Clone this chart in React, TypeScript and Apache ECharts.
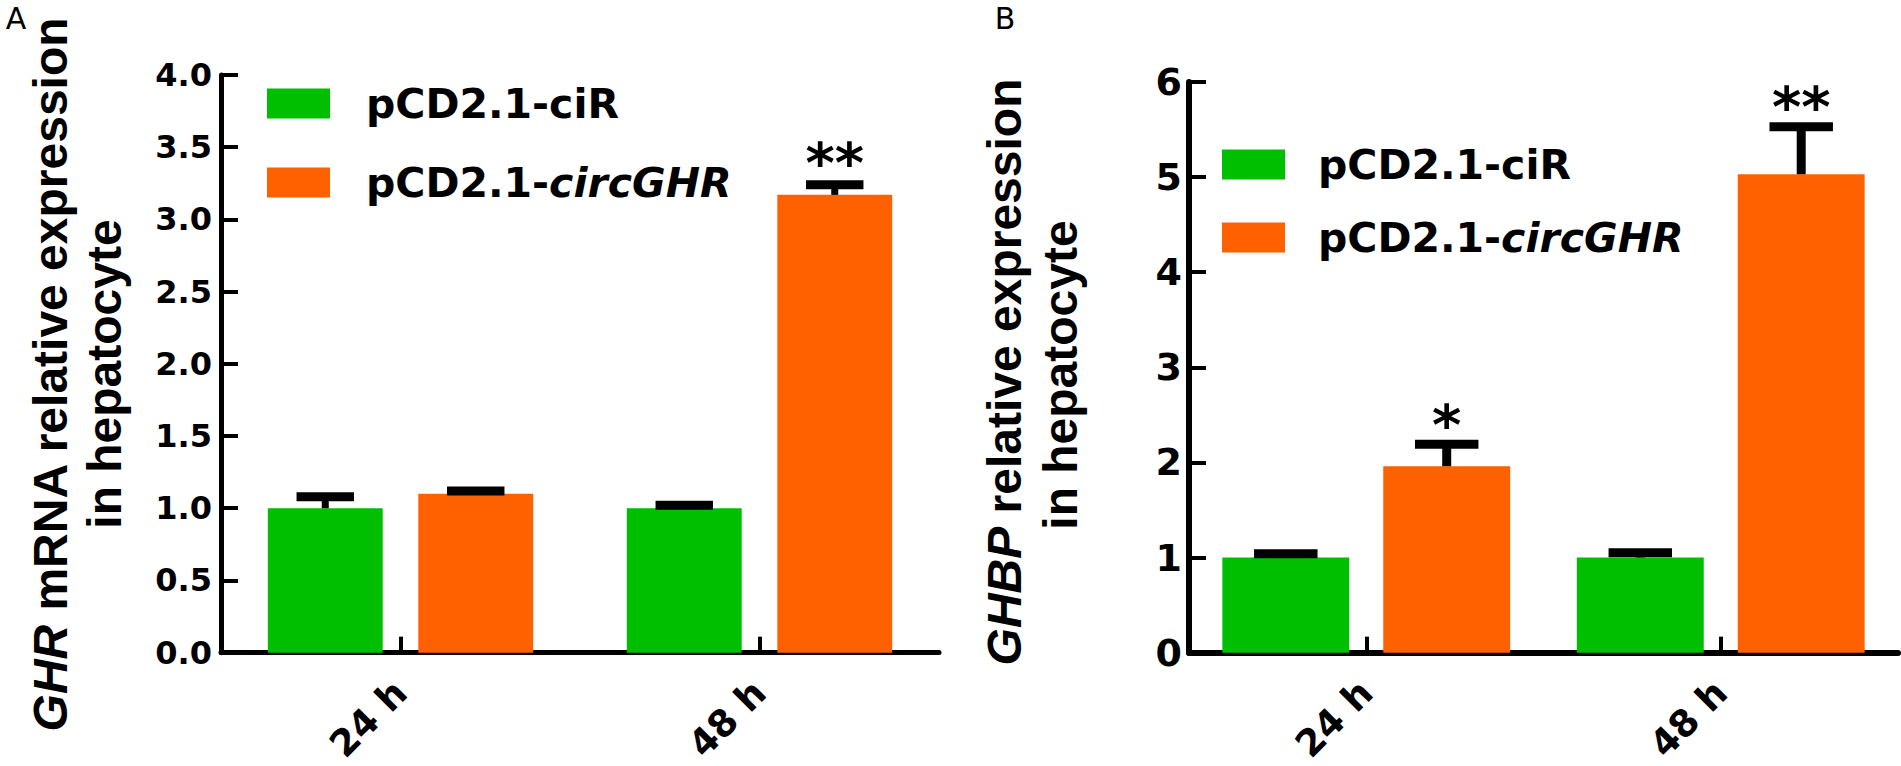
import React, { useEffect, useRef } from "react";
import * as echarts from "echarts";

// ---------- data ----------
const categories = ["24 h", "48 h"];
const seriesNames = ["pCD2.1-ciR", "pCD2.1-circGHR"];

// Panel A: GHR mRNA
const ghrCiR = [1.0, 1.0];
const ghrCiRErr = [0.08, 0.02];
const ghrCirc = [1.1, 3.17];
const ghrCircErr = [0.02, 0.07];
const ghrCircStars = ["", "**"];
const ghrAxis = { min: 0, max: 4, interval: 0.5 };

// Panel B: GHBP
const ghbpCiR = [1.0, 1.0];
const ghbpCiRErr = [0.04, 0.05];
const ghbpCirc = [1.96, 5.03];
const ghbpCircErr = [0.23, 0.5];
const ghbpCircStars = ["*", "**"];
const ghbpAxis = { min: 0, max: 6, interval: 1 };

// ---------- style ----------
const GREEN = "#00bf00";
const ORANGE = "#ff6100";
const FH = "'DejaVu Sans', sans-serif";
const FT = "'Liberation Sans', Arial, sans-serif";

function errSeries(
  gridIdx: number,
  means: number[],
  errs: number[],
  stars: string[],
  sign: number,
  pct: number,
  gap: number,
  stemW: number,
  starFont: number,
  starOff: number
) {
  return {
    type: "custom",
    xAxisIndex: gridIdx,
    yAxisIndex: gridIdx,
    z: 10,
    silent: true,
    data: means.map((m, i) => [i, m, errs[i]]),
    renderItem: (params: any, api: any) => {
      const ci = api.value(0);
      const v = api.value(1);
      const e = api.value(2);
      const base = api.coord([ci, v]);
      const top = api.coord([ci, v + e]);
      const band = api.size([1, 0])[0];
      const bw = band * pct;
      const x = base[0] + (sign * (bw + bw * gap)) / 2;
      const half = bw / 4;
      const children: any[] = [
        {
          type: "line",
          shape: { x1: x, y1: base[1], x2: x, y2: top[1] },
          style: { stroke: "#000", lineWidth: stemW },
        },
        {
          type: "line",
          shape: { x1: x - half, y1: top[1], x2: x + half, y2: top[1] },
          style: { stroke: "#000", lineWidth: 9 },
        },
      ];
      const s = stars[params.dataIndex];
      if (s) {
        children.push({
          type: "text",
          x: x,
          y: top[1] - starOff,
          style: {
            text: s,
            fill: "#000",
            font: `bold ${starFont}px ${FH}`,
            align: "center",
            verticalAlign: "middle",
            textAlign: "center",
            textVerticalAlign: "middle",
          },
        });
      }
      return { type: "group", children };
    },
  };
}

const richLegend = (size: number) => ({
  n: { fontFamily: FH, fontWeight: "bold", fontSize: size, lineHeight: 30, color: "#000" },
  i: {
    fontFamily: FH,
    fontWeight: "bold",
    fontStyle: "italic",
    fontSize: size,
    lineHeight: 30,
    color: "#000",
  },
});

const legendFormatter = (name: string) =>
  name === "pCD2.1-circGHR" ? "{n|pCD2.1-}{i|circGHR}" : "{n|" + name + "}";

function titleText(x: number, y: number, italic: string, rest: string) {
  return {
    type: "text",
    x,
    y,
    rotation: Math.PI / 2,
    style: {
      text: (italic ? "{i|" + italic + "}" : "") + "{n|" + rest + "}",
      align: "center",
      verticalAlign: "middle",
      textAlign: "center",
      textVerticalAlign: "middle",
      rich: {
        n: { fontFamily: FT, fontWeight: "bold", fontSize: 48, fill: "#000", color: "#000" },
        i: {
          fontFamily: FT,
          fontWeight: "bold",
          fontStyle: "italic",
          fontSize: 48,
          fill: "#000",
          color: "#000",
        },
      },
    },
  };
}

function buildOption() {
  const axisLine = (w: number) => ({ show: true, lineStyle: { color: "#000", width: w } });
  const xAxisCommon = (gridIndex: number, w: number) => ({
    type: "category",
    gridIndex,
    data: categories,
    axisLine: axisLine(w),
    axisTick: {
      show: true,
      alignWithLabel: true,
      inside: true,
      length: 16,
      lineStyle: { color: "#000", width: 4 },
    },
    axisLabel: {
      rotate: 45,
      margin: 34,
      color: "#000",
      fontFamily: FH,
      fontWeight: "bold",
      fontSize: 37,
    },
    splitLine: { show: false },
  });
  const yAxisCommon = (
    gridIndex: number,
    ax: { min: number; max: number; interval: number },
    w: number,
    fs: number,
    margin: number,
    dec: number
  ) => ({
    type: "value",
    gridIndex,
    min: ax.min,
    max: ax.max,
    interval: ax.interval,
    axisLine: axisLine(w),
    axisTick: {
      show: true,
      inside: true,
      length: 17,
      lineStyle: { color: "#000", width: 4 },
    },
    axisLabel: {
      margin,
      color: "#000",
      fontFamily: FH,
      fontWeight: "bold",
      fontSize: fs,
      formatter: (v: number) => v.toFixed(dec),
    },
    splitLine: { show: false },
  });

  const A_PCT = 0.32;
  const A_GAP = 0.31;
  const B_PCT = 0.358;
  const B_GAP = 0.268;

  return {
    animation: false,
    backgroundColor: "#fff",
    grid: [
      { left: 221, top: 75, width: 718, height: 592 },
      { left: 1189, top: 82, width: 709, height: 588 },
    ],
    xAxis: [xAxisCommon(0, 5), xAxisCommon(1, 6)],
    yAxis: [
      yAxisCommon(0, ghrAxis, 5, 32, 9, 1),
      yAxisCommon(1, ghbpAxis, 6, 38, 7, 0),
    ],
    legend: [
      {
        orient: "vertical",
        left: 267,
        top: 83,
        padding: 0,
        itemWidth: 63,
        itemHeight: 30,
        itemGap: 38,
        icon: "rect",
        data: seriesNames,
        selectedMode: false,
        formatter: legendFormatter,
        textStyle: { padding: [0, 0, 0, 31], rich: richLegend(41) },
      },
      {
        orient: "vertical",
        left: 1222,
        top: 144,
        padding: 0,
        itemWidth: 63,
        itemHeight: 30,
        itemGap: 32,
        icon: "rect",
        data: seriesNames,
        selectedMode: false,
        formatter: legendFormatter,
        textStyle: { padding: [0, 0, 0, 28], rich: richLegend(41) },
      },
    ],
    series: [
      {
        name: seriesNames[0],
        type: "bar",
        xAxisIndex: 0,
        yAxisIndex: 0,
        data: ghrCiR,
        barWidth: A_PCT * 100 + "%",
        barGap: A_GAP * 100 + "%",
        itemStyle: { color: GREEN },
      },
      {
        name: seriesNames[1],
        type: "bar",
        xAxisIndex: 0,
        yAxisIndex: 0,
        data: ghrCirc,
        barWidth: A_PCT * 100 + "%",
        barGap: A_GAP * 100 + "%",
        itemStyle: { color: ORANGE },
      },
      {
        name: seriesNames[0],
        type: "bar",
        xAxisIndex: 1,
        yAxisIndex: 1,
        data: ghbpCiR,
        barWidth: B_PCT * 100 + "%",
        barGap: B_GAP * 100 + "%",
        itemStyle: { color: GREEN },
      },
      {
        name: seriesNames[1],
        type: "bar",
        xAxisIndex: 1,
        yAxisIndex: 1,
        data: ghbpCirc,
        barWidth: B_PCT * 100 + "%",
        barGap: B_GAP * 100 + "%",
        itemStyle: { color: ORANGE },
      },
      errSeries(0, ghrCiR, ghrCiRErr, ["", ""], -1, A_PCT, A_GAP, 7, 56, 22),
      errSeries(0, ghrCirc, ghrCircErr, ghrCircStars, 1, A_PCT, A_GAP, 7, 56, 22),
      errSeries(1, ghbpCiR, ghbpCiRErr, ["", ""], -1, B_PCT, B_GAP, 9, 56, 20),
      errSeries(1, ghbpCirc, ghbpCircErr, ghbpCircStars, 1, B_PCT, B_GAP, 9, 56, 20),
    ],
    graphic: [
      {
        type: "text",
        x: 16,
        y: 18,
        style: {
          text: "A",
          fill: "#000",
          font: `30px ${FH}`,
          align: "center",
          verticalAlign: "middle",
          textAlign: "center",
          textVerticalAlign: "middle",
        },
      },
      {
        type: "text",
        x: 1005,
        y: 18,
        style: {
          text: "B",
          fill: "#000",
          font: `30px ${FH}`,
          align: "center",
          verticalAlign: "middle",
          textAlign: "center",
          textVerticalAlign: "middle",
        },
      },
      titleText(50, 374, "GHR", " mRNA relative expression"),
      titleText(104, 374, "", "in hepatocyte"),
      titleText(1004, 372, "GHBP", " relative expression"),
      titleText(1060, 375, "", "in hepatocyte"),
    ],
  };
}

export default function App() {
  const ref = useRef<HTMLDivElement>(null);
  useEffect(() => {
    if (!ref.current) return;
    const chart = echarts.init(ref.current, undefined, { renderer: "svg" });
    chart.setOption(buildOption() as any);
    return () => chart.dispose();
  }, []);
  return (
    <div
      ref={ref}
      style={{
        position: "absolute",
        left: 0,
        top: 0,
        width: 1901,
        height: 766,
        background: "#fff",
      }}
    />
  );
}
